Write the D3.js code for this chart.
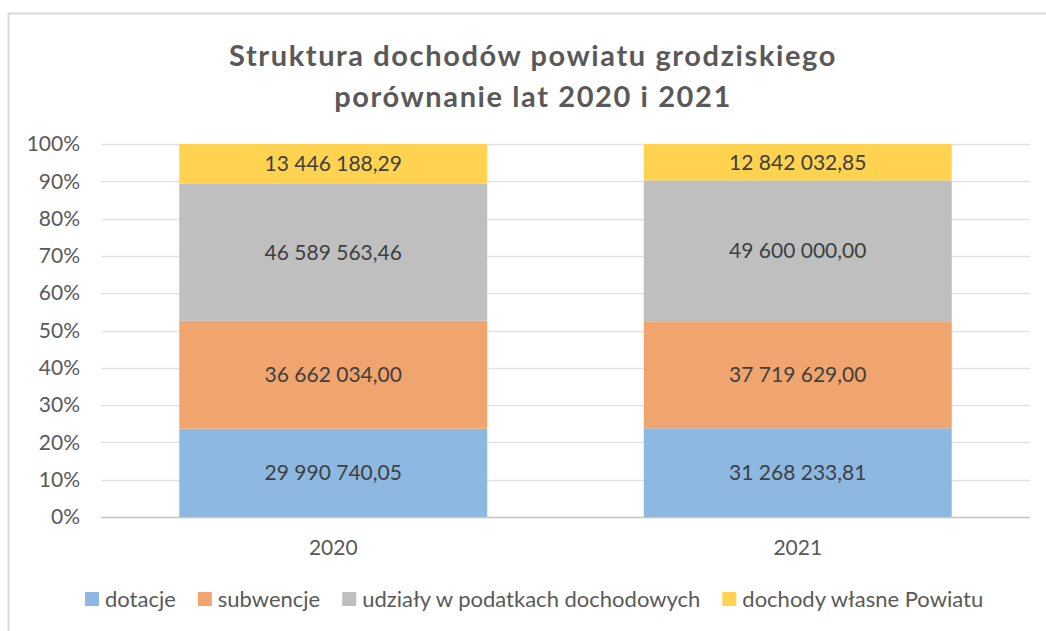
<!DOCTYPE html>
<html>
<head>
<meta charset="utf-8">
<script src="https://cdn.jsdelivr.net/npm/d3@7"></script>
<style>
  html, body { margin: 0; padding: 0; background: #fff; }
  svg { display: block; font-family: Lato, "Open Sans", sans-serif; }
</style>
</head>
<body>
<svg id="chart" width="1046" height="631"></svg>
<script>
// Revenue structure of the county, 2020 vs 2021
const years = ["2020", "2021"];
const seriesNames = ["dotacje", "subwencje", "udziały w podatkach dochodowych", "dochody własne Powiatu"];
const dotacje = [29990740.05, 31268233.81];
const subwencje = [36662034.00, 37719629.00];
const udzialy = [46589563.46, 49600000.00];
const dochodyWlasne = [13446188.29, 12842032.85];
const yTicks = [0, 0.1, 0.2, 0.3, 0.4, 0.5, 0.6, 0.7, 0.8, 0.9, 1.0];
const colors = ["#8cb8e2", "#f0a46e", "#bfbfbf", "#ffd24f"];
const titleLines = ["Struktura dochodów powiatu grodziskiego", "porównanie lat 2020 i 2021"];

const seriesValues = [dotacje, subwencje, udzialy, dochodyWlasne];
const rows = years.map((y, i) => {
  const r = { year: y };
  seriesNames.forEach((s, k) => r[s] = seriesValues[k][i]);
  return r;
});

const pl = d3.formatLocale({ decimal: ",", thousands: "\u00a0", grouping: [3], currency: ["", " zł"] });
const fmt = pl.format(",.2f");

const svg = d3.select("#chart");

// outer frame (top and left edges)
svg.append("line").attr("x1", 8.5).attr("x2", 1046).attr("y1", 13.5).attr("y2", 13.5)
  .attr("stroke", "#d9d9d9").attr("stroke-width", 2);
svg.append("line").attr("x1", 8.5).attr("x2", 8.5).attr("y1", 13).attr("y2", 631)
  .attr("stroke", "#d9d9d9").attr("stroke-width", 2);

const margin = { left: 101, right: 16, top: 144, bottom: 114 };
const W = 1046, H = 631;
const x = d3.scaleBand().domain(years).range([margin.left, W - margin.right]).paddingInner(0.337).paddingOuter(0.1685);
const y = d3.scaleLinear().domain([0, 1]).range([H - margin.bottom, margin.top]);

// horizontal grid
svg.append("g").selectAll("line").data(yTicks.slice(1)).join("line")
  .attr("x1", margin.left).attr("x2", W - margin.right)
  .attr("y1", d => Math.round(y(d)) + 0.5).attr("y2", d => Math.round(y(d)) + 0.5)
  .attr("stroke", "#e3e3e3").attr("stroke-width", 1.5);

// y axis labels
const yAxis = svg.append("g").attr("transform", `translate(${margin.left - 21},0)`)
  .call(d3.axisLeft(y).tickValues(yTicks).tickFormat(d3.format(".0%")).tickSize(0).tickPadding(0));
yAxis.select(".domain").remove();
yAxis.selectAll("text").attr("fill", "#595959").style("font-size", "21px")
  .style("font-family", "Lato, sans-serif");

// stacked shares
const stack = d3.stack().keys(seriesNames).offset(d3.stackOffsetExpand);
const layers = stack(rows);

const gBars = svg.append("g");
layers.forEach((layer, k) => {
  const g = gBars.append("g").attr("fill", colors[k]);
  g.selectAll("rect").data(layer).join("rect")
    .attr("x", d => x(d.data.year))
    .attr("width", x.bandwidth())
    .attr("y", d => y(d[1]))
    .attr("height", d => y(d[0]) - y(d[1]));
  g.selectAll("text").data(layer).join("text")
    .attr("x", d => x(d.data.year) + x.bandwidth() / 2)
    .attr("y", d => (y(d[0]) + y(d[1])) / 2)
    .attr("dy", "0.36em")
    .attr("text-anchor", "middle")
    .attr("fill", "#404040")
    .style("font-size", "21px")
    .text(d => fmt(d.data[layer.key]));
});

// baseline
svg.append("line").attr("x1", margin.left).attr("x2", W - margin.right)
  .attr("y1", y(0) + 0.5).attr("y2", y(0) + 0.5).attr("stroke", "#c4c4c4").attr("stroke-width", 1.5);

// x axis labels
const xAxis = svg.append("g").attr("transform", `translate(0,${y(0)})`)
  .call(d3.axisBottom(x).tickSize(0).tickPadding(23));
xAxis.select(".domain").remove();
xAxis.selectAll("text").attr("fill", "#595959").style("font-size", "21px")
  .style("font-family", "Lato, sans-serif");

// title
svg.append("text").attr("x", 533).attr("text-anchor", "middle")
  .attr("fill", "#595959").style("font-weight", "bold").style("font-size", "29px")
  .style("letter-spacing", "1.6px")
  .selectAll("tspan").data(titleLines).join("tspan")
  .attr("x", 533).attr("y", (d, i) => 66 + i * 41).text(d => d);

// legend
const legend = svg.append("g");
let lx = 85;
seriesNames.forEach((s, k) => {
  legend.append("rect").attr("x", lx).attr("y", 592).attr("width", 14).attr("height", 14).attr("fill", colors[k]);
  const t = legend.append("text").attr("x", lx + 20).attr("y", 607).attr("fill", "#595959")
    .style("font-size", "22px").text(s);
  lx += 20 + t.node().getComputedTextLength() + 22;
});
</script>
</body>
</html>
